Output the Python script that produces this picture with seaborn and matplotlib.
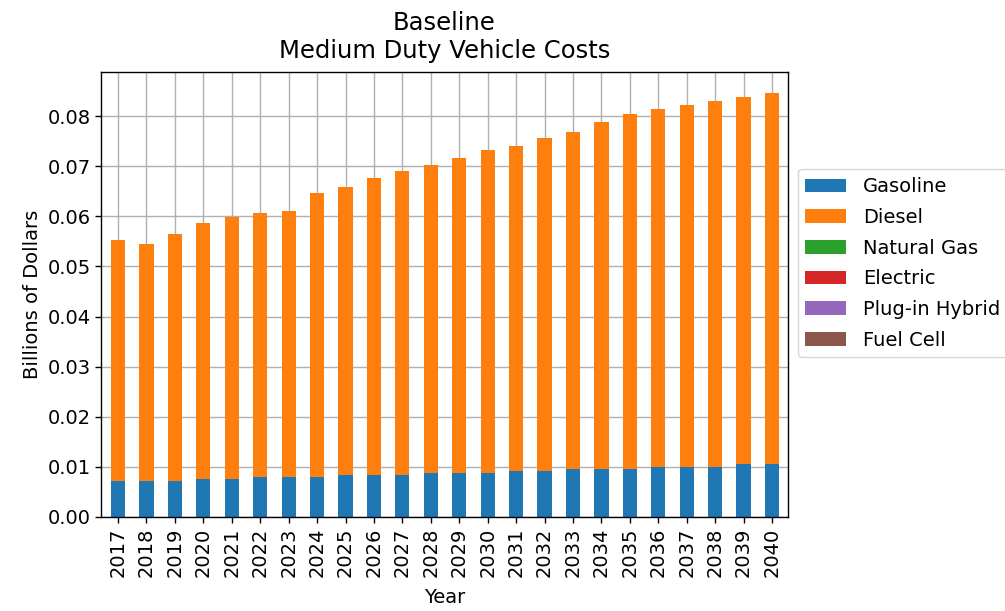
import numpy as np
import pandas as pd
import matplotlib
matplotlib.use("Agg")
import matplotlib.pyplot as plt
import seaborn as sns

# --- DATA (billions of dollars) ---
years = [str(y) for y in range(2017, 2041)]
gasoline = [0.0072, 0.0072, 0.0072, 0.0076, 0.0076, 0.0080, 0.0080, 0.0080,
            0.0084, 0.0084, 0.0084, 0.0088, 0.0088, 0.0088, 0.0092, 0.0092,
            0.0096, 0.0096, 0.0096, 0.0100, 0.0100, 0.0100, 0.0105, 0.0105]
totals = [0.0552, 0.0544, 0.0564, 0.0586, 0.0599, 0.0606, 0.0611, 0.0647,
          0.0659, 0.0676, 0.0691, 0.0702, 0.0717, 0.0732, 0.0741, 0.0757,
          0.0769, 0.0789, 0.0805, 0.0814, 0.0822, 0.0830, 0.0838, 0.0846]
diesel = [round(t - g, 4) for t, g in zip(totals, gasoline)]
natural_gas = [0.0] * len(years)
electric = [0.0] * len(years)
plugin_hybrid = [0.0] * len(years)
fuel_cell = [0.0] * len(years)

series_names = ["Gasoline", "Diesel", "Natural Gas", "Electric",
                "Plug-in Hybrid", "Fuel Cell"]
series_values = [gasoline, diesel, natural_gas, electric, plugin_hybrid, fuel_cell]
colors = ["#1f77b4", "#ff7f0e", "#2ca02c", "#d62728", "#9467bd", "#8c564b"]

# --- STYLE ---
sns.set_theme(style="ticks", rc={
    "axes.grid": True,
    "grid.color": "#b0b0b0",
    "grid.linewidth": 1.0,
    "axes.edgecolor": "black",
    "axes.linewidth": 1.0,
    "text.color": "black",
    "axes.labelcolor": "black",
    "xtick.color": "black",
    "ytick.color": "black",
    "font.size": 14,
    "axes.labelsize": 14,
    "xtick.labelsize": 14,
    "ytick.labelsize": 14,
    "legend.fontsize": 14,
    "axes.titlesize": 17.5,
})
plt.rcParams["font.family"] = ["DejaVu Sans"]

fig = plt.figure(figsize=(10.05, 6.11), dpi=100)
ax = fig.add_axes([0.1005, 0.154, 0.6835, 0.728])

# stacked bars: each series sits on the running sum of the ones before it
bottom = np.zeros(len(years))
for name, vals, col in zip(series_names, series_values, colors):
    df = pd.DataFrame({"Year": years, "Cost": vals})
    sns.barplot(data=df, x="Year", y="Cost", color=col, width=0.5,
                bottom=bottom, label=name, ax=ax, saturation=1,
                linewidth=0, errorbar=None)
    bottom = bottom + np.array(vals)

ax.set_axisbelow(True)
ax.grid(True, axis="both", color="#b0b0b0", linewidth=1.0)
ax.set_xlim(-0.6, len(years) - 0.44)
ax.set_ylim(0, 0.0888)
ax.set_yticks(np.arange(0, 0.081, 0.01))
ax.yaxis.set_major_formatter(matplotlib.ticker.FormatStrFormatter("%.2f"))
ax.tick_params(axis="x", rotation=90)
ax.tick_params(direction="out", length=4, width=1)

ax.set_title("Baseline\nMedium Duty Vehicle Costs", pad=10)
ax.set_xlabel("Year", labelpad=8)
ax.set_ylabel("Billions of Dollars")

# the reference crops the legend at the right edge of the figure
ax.legend(loc="center left", bbox_to_anchor=(1.0, 0.57), frameon=True,
          fancybox=True, edgecolor="#cccccc", framealpha=0.8,
          handlelength=2.1, handletextpad=0.88, labelspacing=0.6)

fig.savefig("out.png", dpi=100)
